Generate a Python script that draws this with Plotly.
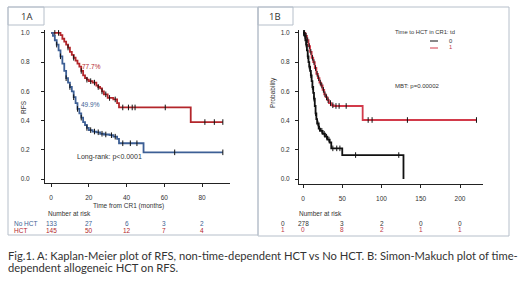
import plotly.graph_objects as go

# ---- data ----
# panel A: Kaplan-Meier RFS, HCT vs No HCT (months)
a_hct_t = [0, 3, 5, 6, 7, 8, 9, 10, 11, 12, 13, 14, 15, 16, 17, 18, 19, 20, 22, 24, 25, 26, 27, 28, 30, 33, 35, 36, 74, 91]
a_hct_s = [1.0, 1.0, 0.985, 0.96, 0.94, 0.92, 0.90, 0.87, 0.85, 0.83, 0.81, 0.79, 0.77, 0.74, 0.71, 0.69, 0.68, 0.67, 0.66, 0.64, 0.63, 0.62, 0.60, 0.58, 0.555, 0.545, 0.52, 0.49, 0.39, 0.39]
a_hct_cens = [2, 4, 9, 12, 16, 19, 21, 23, 25, 27, 29, 31, 34, 38, 41, 43, 44.5, 60.5, 81.5, 86.5, 91]

a_no_t = [0, 1, 2, 3, 4, 5, 6, 7, 8, 9, 10, 11, 12, 13, 14, 15, 16, 17, 18, 19, 20, 22, 24, 26, 28, 31, 33, 35, 36, 49, 91]
a_no_s = [1.0, 0.98, 0.95, 0.92, 0.88, 0.84, 0.79, 0.74, 0.69, 0.66, 0.63, 0.60, 0.56, 0.52, 0.48, 0.45, 0.42, 0.39, 0.37, 0.35, 0.335, 0.325, 0.32, 0.31, 0.305, 0.30, 0.29, 0.275, 0.245, 0.183, 0.183]
a_no_cens = [3, 5, 8, 10, 12, 14, 16, 19, 21, 23, 25, 27, 29, 32, 34, 38, 42, 45.5, 65.5, 91]

a_ticks = [0, 20, 40, 60, 80]
a_risk_no = ["133", "27", "6", "3", "2"]
a_risk_hct = ["145", "50", "12", "7", "4"]

# panel B: Simon-Makuch, time-dependent HCT
b0_t = [0, 2, 3, 4, 5, 6, 7, 8, 9, 10, 11, 12, 13, 14, 15, 16, 17, 18, 20, 22, 25, 28, 31, 34, 36, 50, 128]
b0_s = [1.0, 0.98, 0.95, 0.92, 0.88, 0.84, 0.80, 0.77, 0.74, 0.71, 0.67, 0.63, 0.59, 0.55, 0.50, 0.45, 0.41, 0.38, 0.345, 0.33, 0.31, 0.29, 0.27, 0.25, 0.21, 0.164, 0.0]
b0_cens = [1, 2.5, 4, 6, 8, 10, 12, 14, 16, 19, 21, 24, 27, 30, 33, 38, 43, 47, 67, 122]

b1_t = [0, 3, 5, 7, 9, 11, 13, 15, 17, 19, 21, 23, 25, 27, 29, 31, 33, 36, 39, 76, 221]
b1_s = [1.0, 0.98, 0.95, 0.91, 0.87, 0.83, 0.80, 0.76, 0.72, 0.69, 0.66, 0.64, 0.61, 0.58, 0.56, 0.54, 0.52, 0.505, 0.50, 0.404, 0.404]
b1_cens = [1, 2, 4, 6, 8, 10, 12, 14, 16, 18, 20, 22, 24, 26, 28, 30, 32, 35, 38, 42, 46, 55, 83, 88, 133, 221]

b_ticks = [0, 50, 100, 150, 200]
b_risk_0 = ["278", "3", "2", "0", "0"]
b_risk_1 = ["0", "8", "2", "1", "1"]

y_ticks = [0.0, 0.2, 0.4, 0.6, 0.8, 1.0]

RED = "#b3262b"
BLUE = "#3d5f95"
BOX = "#b6bfca"
W, H = 520, 292


def px(x):
    return x / W


def py(y):
    return 1 - y / H


def step_at(ts, ss, t):
    # value of the step curve at time t
    v = ss[0]
    for ti, si in zip(ts, ss):
        if ti <= t:
            v = si
    return v


def km_traces(ts, ss, cens, color, xa, ya):
    line = go.Scatter(x=ts, y=ss, mode="lines", line=dict(color=color, width=1.8, shape="hv"),
                      xaxis=xa, yaxis=ya, hoverinfo="skip", showlegend=False)
    marks = go.Scatter(x=cens, y=[step_at(ts, ss, c) for c in cens], mode="markers",
                       marker=dict(symbol="line-ns", size=4, line=dict(color="#111", width=1)),
                       xaxis=xa, yaxis=ya, hoverinfo="skip", showlegend=False)
    return [line, marks]


fig = go.Figure()
for tr in km_traces(a_hct_t, a_hct_s, a_hct_cens, RED, "x", "y"):
    fig.add_trace(tr)
for tr in km_traces(a_no_t, a_no_s, a_no_cens, BLUE, "x", "y"):
    fig.add_trace(tr)
for tr in km_traces(b1_t, b1_s, b1_cens, "#d23a4a", "x2", "y2"):
    fig.add_trace(tr)
for tr in km_traces(b0_t, b0_s, b0_cens, "#111", "x2", "y2"):
    fig.add_trace(tr)

tickfont = dict(family="Liberation Sans", size=6.5, color="#333")
axis_common = dict(showline=True, linecolor="#222", linewidth=1, ticks="outside", ticklen=3,
                   tickcolor="#222", showgrid=False, zeroline=False, tickfont=tickfont)

fig.update_layout(
    width=W, height=H, margin=dict(l=0, r=0, t=0, b=0),
    paper_bgcolor="white", plot_bgcolor="rgba(0,0,0,0)",
    xaxis=dict(domain=[px(45), px(230)], range=[-3.2, 94.8], tickvals=a_ticks,
               ticklabelstandoff=5, anchor="y", **axis_common),
    yaxis=dict(domain=[py(183), py(30)], range=[-0.027, 1.02], tickvals=y_ticks,
               tickformat=".1f", ticklabelstandoff=10, anchor="x", **axis_common),
    xaxis2=dict(domain=[px(299), px(483)], range=[-5.1, 229.3], tickvals=b_ticks,
                ticklabelstandoff=5, anchor="y2", **axis_common),
    yaxis2=dict(domain=[py(184), py(30)], range=[-0.034, 1.02], tickvals=y_ticks,
                tickformat=".1f", ticklabelstandoff=4, anchor="x2", **axis_common),
)

# panel boxes and label boxes
for x0, y0, x1, y1 in [(8, 7, 258, 235), (258, 7, 509, 236), (8, 7, 44, 25), (258, 7, 293, 25)]:
    fig.add_shape(type="rect", xref="paper", yref="paper", x0=px(x0), x1=px(x1), y0=py(y1), y1=py(y0),
                  line=dict(color=BOX, width=1), fillcolor="rgba(0,0,0,0)")

# legend lines in panel B
fig.add_shape(type="line", xref="paper", yref="paper", x0=px(430), x1=px(438), y0=py(41), y1=py(41),
              line=dict(color="#111", width=1))
fig.add_shape(type="line", xref="paper", yref="paper", x0=px(430), x1=px(438), y0=py(48), y1=py(48),
              line=dict(color="#d23a4a", width=1))

small = dict(family="Liberation Sans", size=6.5, color="#333")


def note(text, x, y, font=small, xanchor="left", **kw):
    fig.add_annotation(text=text, x=px(x), y=py(y), xref="paper", yref="paper", showarrow=False,
                       xanchor=xanchor, yanchor="middle", font=font, **kw)


note("1A", 26, 16, font=dict(family="Open Sans", size=9.5, color="#333"), xanchor="center")
note("1B", 275, 16, font=dict(family="Open Sans", size=9.5, color="#333"), xanchor="center")

# panel A texts
note("RFS", 23, 107, xanchor="center", textangle=-90)
note("Time from CR1 (months)", 128, 206, xanchor="center")
note("77.7%", 80, 66, font=dict(family="Liberation Sans", size=6.5, color=RED))
note("49.9%", 79, 104, font=dict(family="Liberation Sans", size=6.5, color=BLUE))
note("Long-rank: p&lt;0.0001", 75, 157, font=dict(family="Liberation Sans", size=7, color="#333"))
note("Number at risk", 46, 213)
note("No HCT", 12, 223, font=dict(family="Liberation Sans", size=6.5, color=BLUE))
note("HCT", 12, 230, font=dict(family="Liberation Sans", size=6.5, color=RED))
for t, n1, n2 in zip(a_ticks, a_risk_no, a_risk_hct):
    fig.add_annotation(text=n1, x=t, y=py(223), xref="x", yref="paper", showarrow=False,
                       yanchor="middle", font=dict(family="Liberation Sans", size=6.5, color=BLUE))
    fig.add_annotation(text=n2, x=t, y=py(230), xref="x", yref="paper", showarrow=False,
                       yanchor="middle", font=dict(family="Liberation Sans", size=6.5, color=RED))

# panel B texts
note("Probability", 273, 93, xanchor="center", textangle=-90)
note("Time to HCT in CR1: td", 393, 32, font=dict(family="Liberation Sans", size=5.8, color="#333"))
note("0", 447, 41, font=dict(family="Liberation Sans", size=5.8, color="#333"))
note("1", 447, 47, font=dict(family="Liberation Sans", size=5.8, color="#c0394a"))
note("MBT: p=0.00002", 393, 86, font=dict(family="Liberation Sans", size=6, color="#333"))
note("Number at risk", 297, 213)
note("0", 283, 223, xanchor="center")
note("1", 283, 229, xanchor="center", font=dict(family="Liberation Sans", size=6.5, color="#c0394a"))
for t, n1, n2 in zip(b_ticks, b_risk_0, b_risk_1):
    fig.add_annotation(text=n1, x=t, y=py(223), xref="x2", yref="paper", showarrow=False,
                       yanchor="middle", font=small)
    fig.add_annotation(text=n2, x=t, y=py(229), xref="x2", yref="paper", showarrow=False,
                       yanchor="middle", font=dict(family="Liberation Sans", size=6.5, color="#c0394a"))

# caption
cap = dict(family="Lato", size=11.2, color="#333")
note("Fig.1. A: Kaplan-Meier plot of RFS, non-time-dependent HCT vs No HCT. B: Simon-Makuch plot of time-",
     6, 255, font=cap)
note("dependent allogeneic HCT on RFS.", 6, 267, font=cap)

# page has a default 8px body margin, drop it so the figure fills the window
fig.write_html("out.html", config={"displayModeBar": False},
               post_script="document.body.style.margin='0';")
